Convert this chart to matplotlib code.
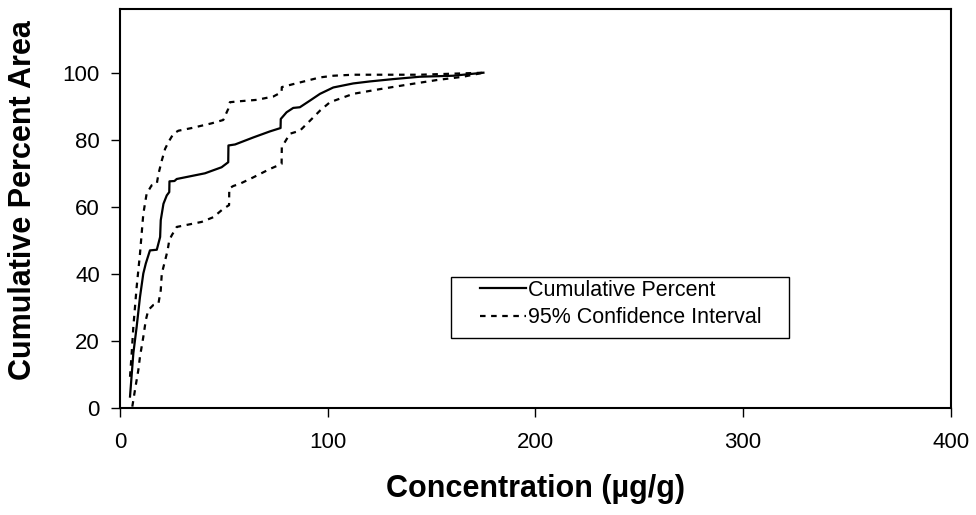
import matplotlib
matplotlib.use("Agg")
import matplotlib.pyplot as plt
from matplotlib.patches import Rectangle

plt.rcParams['font.family'] = ['Liberation Sans', 'DejaVu Sans']

# Cumulative percent (solid)
cum_x = [4.8, 6.4, 8.0, 9.6, 11.2, 12.4, 14.4, 17.7, 19.3, 19.6, 20.9, 22.5, 23.7, 23.8,
         26.2, 27.3, 32.9, 40.9, 48.9, 52.1, 52.2, 55.4, 64.2, 72.2, 77.3, 77.4, 80.2,
         83.4, 86.6, 91.5, 96.3, 102.7, 112.3, 120.3, 131.6, 144.4, 160.4, 175.0]
cum_y = [3.4, 16.3, 24.2, 33.1, 40.1, 43.1, 47.0, 47.2, 51.0, 56.0, 60.9, 63.4, 64.4, 67.6,
         67.7, 68.3, 69.0, 70.0, 71.8, 73.3, 78.3, 78.6, 80.7, 82.5, 83.5, 86.2, 88.2,
         89.5, 89.7, 91.7, 93.7, 95.6, 96.8, 97.4, 98.1, 98.8, 99.1, 100.0]

# Upper 95% confidence bound (dashed, left)
up_x = [4.8, 5.6, 6.4, 8.0, 9.6, 11.2, 12.8, 15.2, 17.7, 18.5, 20.1, 21.7, 23.3, 25.7,
        28.1, 34.5, 44.1, 49.7, 52.1, 52.9, 57.8, 65.8, 73.8, 77.8, 77.9, 83.4, 89.9,
        96.3, 102.7, 112.3, 128.4, 144.4, 175.0]
up_y = [9.3, 16.3, 24.2, 36.1, 46.0, 57.9, 63.9, 66.4, 66.9, 69.8, 73.8, 77.3, 79.3, 81.8,
        82.7, 83.5, 84.9, 85.9, 89.2, 91.2, 91.5, 91.9, 92.9, 94.2, 95.7, 96.6, 97.6,
        98.6, 99.1, 99.4, 99.4, 99.4, 100.0]

# Lower 95% confidence bound (dashed, right)
lo_x = [5.9, 7.2, 8.8, 9.6, 11.2, 12.4, 13.6, 16.0, 18.5, 19.6, 20.1, 21.7, 22.9, 23.7,
        24.9, 27.3, 32.9, 39.3, 44.9, 49.7, 52.5, 52.6, 54.5, 57.8, 64.2, 72.2, 77.8,
        77.9, 81.8, 86.6, 91.5, 96.3, 101.1, 112.3, 125.1, 138.0, 152.4, 165.2, 175.0]
lo_y = [0.4, 5.4, 11.3, 15.3, 21.2, 26.2, 29.2, 30.7, 31.2, 35.1, 40.1, 44.0, 47.0, 50.0,
        51.5, 54.0, 54.7, 55.5, 56.9, 59.4, 60.5, 65.5, 66.2, 66.9, 68.8, 71.3, 72.8,
        77.8, 81.8, 82.7, 85.7, 88.7, 91.2, 93.7, 95.1, 96.4, 97.8, 98.8, 100.0]

x_ticks = [0, 100, 200, 300, 400]
y_ticks = [0, 20, 40, 60, 80, 100]

fig = plt.figure(figsize=(9.76, 5.15), dpi=100)
ax = fig.add_axes([0.123, 0.2078, 0.851, 0.7747])

dash = (0, (2.5, 2.5))
ax.plot(cum_x, cum_y, color='black', lw=1.6, label='Cumulative Percent')
ax.plot(up_x, up_y, color='black', lw=1.6, linestyle=dash,
        label='95% Confidence Interval')
ax.plot(lo_x, lo_y, color='black', lw=1.6, linestyle=dash)

ax.set_xlim(0, 400)
ax.set_ylim(0, 119)
ax.set_xticks(x_ticks)
ax.set_yticks(y_ticks)
ax.tick_params(axis='both', direction='out', length=6.5, width=1, labelsize=16,
               color='black')
ax.tick_params(axis='y', pad=8)
ax.tick_params(axis='x', pad=11)
for s in ax.spines.values():
    s.set_linewidth(1.5)
    s.set_color('black')

fig.text(23.5 / 976, 1 - 200 / 515, 'Cumulative Percent Area', rotation=90,
         ha='center', va='center', fontsize=22, fontweight='bold')
fig.text((120 + 951) / 2 / 976, 1 - 489 / 515, 'Concentration (µg/g)',
         ha='center', va='center', fontsize=22, fontweight='bold')

# legend box
ax.add_patch(Rectangle((0.3983, 0.1754), 0.805 - 0.3983, 0.3283 - 0.1754,
                       transform=ax.transAxes, facecolor='white', edgecolor='black',
                       lw=1.0, zorder=4))
leg = ax.legend(loc='center left', bbox_to_anchor=(0.4332, 0.2607), fontsize=15.5,
                frameon=False, handlelength=2.13, borderpad=0, borderaxespad=0,
                labelspacing=0.3, handletextpad=0.12)
leg.set_zorder(5)

fig.savefig('out.png', dpi=100)
